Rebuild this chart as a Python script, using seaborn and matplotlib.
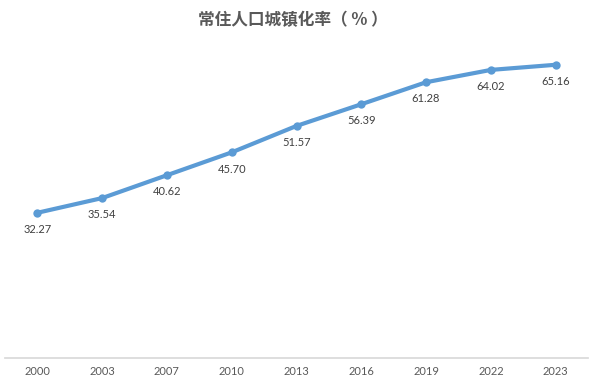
import pandas as pd
import numpy as np
import matplotlib.pyplot as plt
import seaborn as sns

# ── DATA ──────────────────────────────────────────────────
years = ["2000", "2003", "2007", "2010", "2013", "2016", "2019", "2022", "2023"]
rates = [32.27, 35.54, 40.62, 45.70, 51.57, 56.39, 61.28, 64.02, 65.16]
df = pd.DataFrame({"year": years, "rate": rates})

# ── STYLE ─────────────────────────────────────────────────
sns.set_theme(style="white")
plt.rcParams["font.family"] = ["Lato", "Noto Sans CJK SC", "DejaVu Sans"]

fig = plt.figure(figsize=(5.98, 3.84), dpi=100)
ax = fig.add_axes([5 / 598, 26 / 384, 583 / 598, 315 / 384])

sns.lineplot(data=df, x="year", y="rate", ax=ax, color="#5B9BD5",
             linewidth=3, marker="o", markersize=6, markeredgewidth=0, sort=False)

for i, v in enumerate(rates):
    ax.annotate(f"{v:.2f}", (i, v), xytext=(0, -12), textcoords="offset points",
                ha="center", va="center", fontsize=8, color="#404040")

ax.set_xlim(-0.5, len(years) - 0.5)
ax.set_ylim(0, 70)
ax.set_yticks([])
ax.set_xlabel("")
ax.set_ylabel("")
for s in ["top", "left", "right"]:
    ax.spines[s].set_visible(False)
ax.spines["bottom"].set_color("#D9D9D9")
ax.tick_params(axis="x", length=0, labelsize=8, labelcolor="#595959", pad=6)

fig.text(0.49, 1 - 20 / 384, "常住人口城镇化率（ % ）", ha="center", va="center",
         fontsize=12, fontweight="bold", color="#595959",
         family=["Noto Sans CJK SC", "DejaVu Sans"])

plt.savefig("out.png", dpi=100)
